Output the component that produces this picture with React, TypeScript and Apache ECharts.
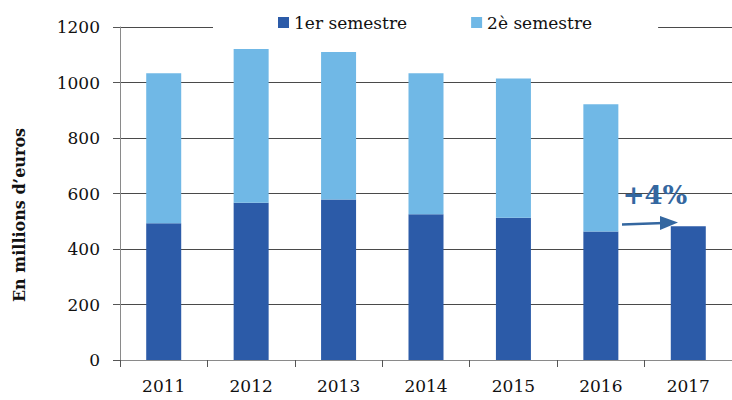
import React, { useEffect, useRef } from "react";
import * as echarts from "echarts";

const years = ["2011", "2012", "2013", "2014", "2015", "2016", "2017"];
const firstHalf = [493, 567, 578, 525, 513, 463, 482];
const secondHalf = [540, 554, 532, 508, 501, 459, null];
const seriesNames = ["1er semestre", "2è semestre"];
const yTicks = { min: 0, max: 1200, interval: 200 };
const annotationText = "+4%";
const yAxisTitle = "En millions d\u2019euros";

const FONT = "DejaVu Serif";

export default function App() {
  const ref = useRef<HTMLDivElement>(null);
  useEffect(() => {
    if (!ref.current) return;
    const chart = echarts.init(ref.current, null, { renderer: "svg" });
    chart.setOption({
      animation: false,
      textStyle: { fontFamily: FONT },
      grid: { left: 120, top: 27, bottom: 40, width: 616, containLabel: false },
      legend: {
        data: seriesNames,
        left: 213,
        top: 9,
        padding: [5, 66, 6, 65],
        backgroundColor: "#ffffff",
        itemWidth: 11,
        itemHeight: 11,
        itemGap: 64,
        icon: "rect",
        textStyle: { fontFamily: FONT, fontSize: 17, color: "#111" },
        z: 10,
      },
      xAxis: {
        type: "category",
        data: years,
        axisLine: { lineStyle: { color: "#8a8a8a", width: 1 } },
        axisTick: { show: true, length: 7, lineStyle: { color: "#555" } },
        axisLabel: { fontFamily: FONT, fontSize: 17, color: "#111", margin: 17 },
      },
      yAxis: {
        type: "value",
        min: yTicks.min,
        max: yTicks.max,
        interval: yTicks.interval,
        axisLine: { show: true, lineStyle: { color: "#8a8a8a", width: 1 } },
        axisTick: { show: true, length: 7, lineStyle: { color: "#555" } },
        axisLabel: {
          fontFamily: FONT,
          fontSize: 17,
          color: "#111",
          margin: 20,
          formatter: (v: number) => String(v),
        },
        splitLine: { show: true, lineStyle: { color: "#4a4a4a", width: 1 } },
      },
      series: [
        {
          name: seriesNames[0],
          type: "bar",
          stack: "total",
          data: firstHalf,
          barWidth: 35,
          itemStyle: { color: "#2C5BA8" },
        },
        {
          name: seriesNames[1],
          type: "bar",
          stack: "total",
          data: secondHalf,
          barWidth: 35,
          itemStyle: { color: "#70B8E6" },
        },
      ],
      graphic: [
        {
          type: "text",
          x: 19,
          y: 215,
          rotation: Math.PI / 2,
          style: {
            text: yAxisTitle,
            fontFamily: FONT,
            fontSize: 16,
            fontWeight: "bold",
            fill: "#111",
            align: "center",
            verticalAlign: "middle",
          },
        },
        {
          type: "text",
          x: 655,
          y: 195,
          style: {
            text: annotationText,
            fontFamily: FONT,
            fontSize: 26,
            fontWeight: "bold",
            fill: "#3467A0",
            align: "center",
            verticalAlign: "middle",
          },
          z: 20,
        },
        {
          type: "line",
          shape: { x1: 622, y1: 224.5, x2: 664, y2: 223 },
          style: { stroke: "#3467A0", lineWidth: 2.5 },
          z: 20,
        },
        {
          type: "polygon",
          shape: { points: [[660, 216], [678, 222.5], [660, 230]] },
          style: { fill: "#3467A0" },
          z: 20,
        },
      ],
    });
    return () => chart.dispose();
  }, []);
  return (
    <div
      ref={ref}
      style={{ position: "absolute", left: 0, top: 0, width: 732, height: 400, background: "#fff" }}
    />
  );
}
